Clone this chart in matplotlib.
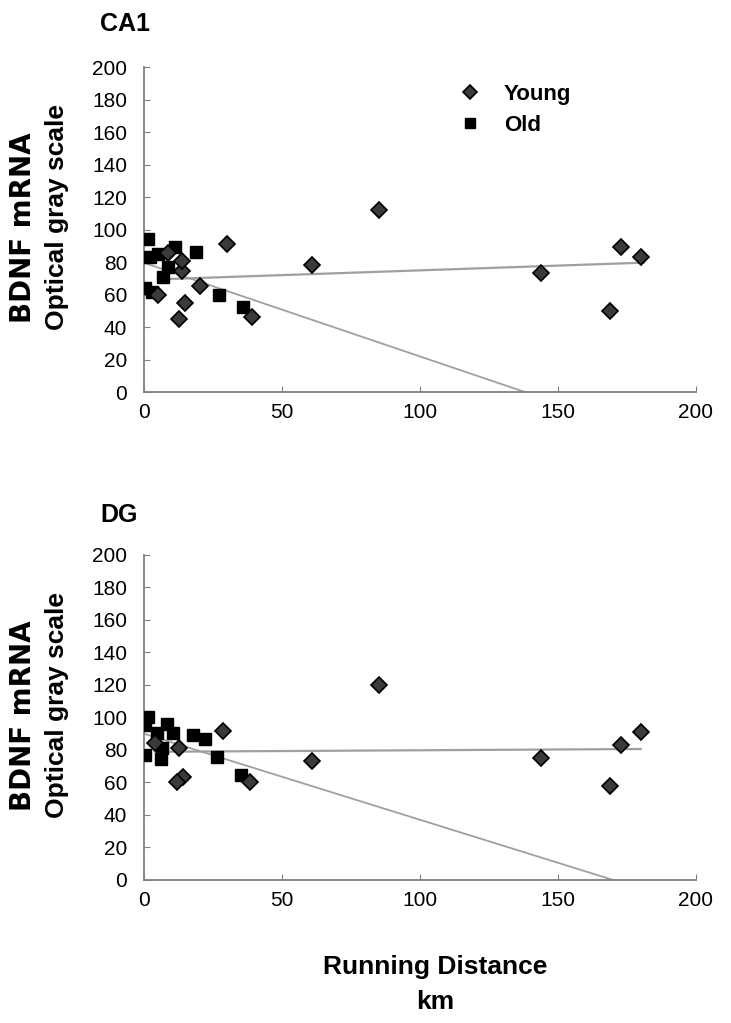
import matplotlib.pyplot as plt
import numpy as np

plt.rcParams['font.family'] = ['Liberation Sans', 'DejaVu Sans']

# CA1 panel
ca1_young_x = [30, 61, 85, 144, 169, 173, 180, 12.7, 14.9, 20.3, 39, 13.6, 13.6, 5.2, 8.8]
ca1_young_y = [91, 78, 112, 73, 50, 89, 83, 45, 55, 65.4, 46, 74.6, 80.8, 59.7, 85.3]
ca1_old_x = [1.3, 2.2, 5.2, 11.2, 18.7, 8.8, 7, 0.4, 2.8, 27.3, 36]
ca1_old_y = [94, 83, 85, 89.4, 86, 77, 70.5, 63.8, 61.7, 60, 52.5]
ca1_young_fit_x = [5, 181]
ca1_young_fit_y = [69.3, 79.6]
ca1_old_fit_x = [0, 138]
ca1_old_fit_y = [79.5, 0]

# DG panel
dg_young_x = [28.5, 12.8, 4, 14.2, 11.8, 38.4, 61, 85, 144, 169, 173, 180]
dg_young_y = [91.9, 81, 84.1, 63.5, 60.5, 60.5, 73.5, 120, 75, 58, 83, 91]
dg_old_x = [1.6, 0.4, 8.2, 4.6, 10.4, 17.9, 22.1, 6.4, 0.4, 6, 26.6, 35.1]
dg_old_y = [100, 95.4, 96, 90.3, 90.3, 89.2, 86.8, 81, 77, 74.3, 75.5, 64.6]
dg_young_fit_x = [4, 180]
dg_young_fit_y = [78.9, 80.6]
dg_old_fit_x = [0, 170]
dg_old_fit_y = [90, 0]

panels = [
    ('CA1', ca1_young_x, ca1_young_y, ca1_old_x, ca1_old_y,
     ca1_young_fit_x, ca1_young_fit_y, ca1_old_fit_x, ca1_old_fit_y),
    ('DG', dg_young_x, dg_young_y, dg_old_x, dg_old_y,
     dg_young_fit_x, dg_young_fit_y, dg_old_fit_x, dg_old_fit_y),
]

fig = plt.figure(figsize=(7.31, 10.23), dpi=100)
axes_pos = [[0.197, 0.6168, 0.755, 0.3177], [0.197, 0.1398, 0.755, 0.3177]]
title_y = [0.977, 0.497]

for i, (name, yx, yy, ox, oy, yfx, yfy, ofx, ofy) in enumerate(panels):
    ax = fig.add_axes(axes_pos[i])
    ax.plot(yfx, yfy, color='#a0a0a0', lw=1.6, zorder=1)
    ax.plot(ofx, ofy, color='#a0a0a0', lw=1.3, zorder=1)
    ax.plot(ox, oy, 's', color='black', ms=9, mec='black', zorder=3)
    ax.plot(yx, yy, 'D', color='#3a3a3a', ms=8, mec='black', mew=1.2, zorder=4)
    ax.set_xlim(0, 200)
    ax.set_ylim(0, 200)
    ax.set_xticks(range(0, 201, 50))
    ax.set_yticks(range(0, 201, 20))
    for s in ['top', 'right']:
        ax.spines[s].set_visible(False)
    for s in ['left', 'bottom']:
        ax.spines[s].set_color('#808080')
        ax.spines[s].set_linewidth(1.3)
    ax.tick_params(direction='in', color='#808080', length=4, labelsize=15)
    ax.tick_params(axis='y', pad=12)
    ax.tick_params(axis='x', pad=8)
    mid = axes_pos[i][1] + axes_pos[i][3] * 0.5
    fig.text(0.031, mid + 0.002, 'BDNF mRNA', rotation=90, ha='center', va='center',
             fontsize=20, fontweight='bold', family=['DejaVu Sans'])
    fig.text(0.078, mid + 0.012, 'Optical gray scale', rotation=90, ha='center', va='center',
             fontsize=19, fontweight='bold')
    fig.text(0.137, title_y[i], name, fontsize=18, fontweight='bold', ha='left', va='center')
    if i == 0:
        hy, = ax.plot([], [], 'D', color='#3a3a3a', ms=7, mec='black', mew=1.2)
        ho, = ax.plot([], [], 's', color='black', ms=7)
        ax.legend([hy, ho], ['Young', 'Old'], loc='upper left', bbox_to_anchor=(0.535, 1.01),
                  frameon=False, prop={'weight': 'bold', 'size': 16},
                  handlelength=1.0, handletextpad=1.0, labelspacing=0.45)

fig.text(0.595, 1 - 967 / 1023, 'Running Distance', fontsize=19, fontweight='bold',
         ha='center', va='center')
fig.text(0.595, 1 - 1002 / 1023, 'km', fontsize=19, fontweight='bold',
         ha='center', va='center')

fig.savefig('out.png', dpi=100)
